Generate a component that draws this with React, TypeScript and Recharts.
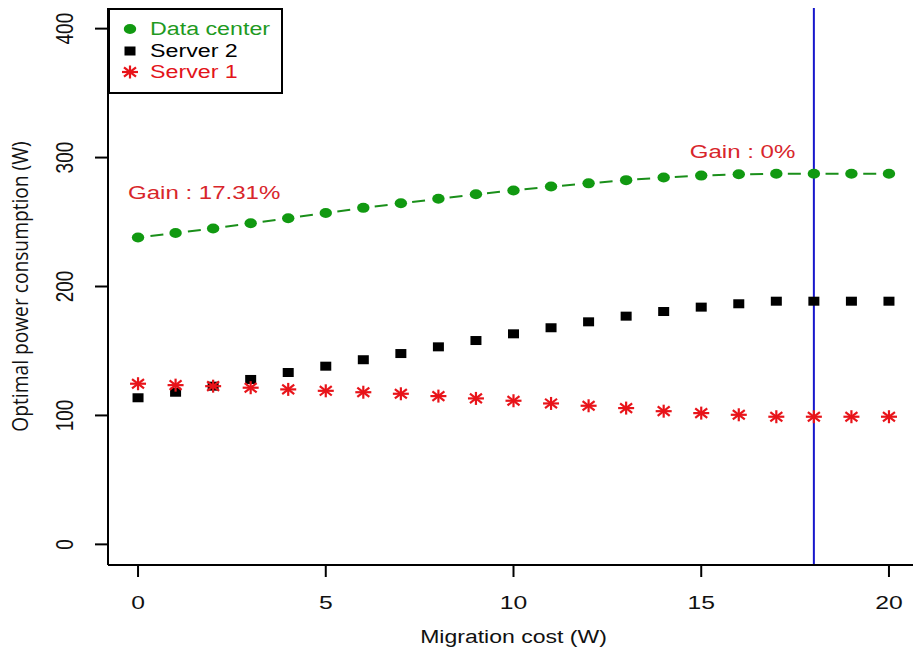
import {
  ComposedChart,
  Line,
  XAxis,
  YAxis,
  Legend,
  ReferenceLine,
  ReferenceDot,
} from 'recharts';

/**
 * Optimal power consumption vs migration cost
 * R-style scatter plot: data center (dashed), server 2, server 1
 */

const costs = [0, 1, 2, 3, 4, 5, 6, 7, 8, 9, 10, 11, 12, 13, 14, 15, 16, 17, 18, 19, 20];
const dataCenter = [238, 241.5, 245, 249, 253, 257, 261, 264.5, 268, 271.5, 274.5, 277.5, 280, 282.5, 284.5, 286, 287, 287.5, 287.5, 287.5, 287.5];
const server2 = [113.7, 118, 122.7, 127.9, 133.3, 138.2, 143.2, 148, 153.2, 158.1, 163.3, 168, 172.6, 177, 180.6, 184, 186.6, 188.6, 188.6, 188.6, 188.6];
const server1 = [124.6, 123.5, 122.7, 121.5, 120.2, 119.1, 118, 116.8, 115, 113.2, 111.4, 109.3, 107.5, 105.7, 103.3, 101.8, 100.5, 99, 99, 99, 99];

const xTicks = [0, 5, 10, 15, 20];
const yTicks = [0, 100, 200, 300, 400];
const breakEven = 18;

const gainNotes = [
  { cost: 1.76, value: 267.5, text: 'Gain : 17.31%' },
  { cost: 16.1, value: 299.5, text: 'Gain : 0%' },
];

const legendItems = [
  { name: 'Data center', color: '#1f9a1f', symbol: 'dot' },
  { name: 'Server 2', color: '#000000', symbol: 'square' },
  { name: 'Server 1', color: '#e3141a', symbol: 'star' },
];

const GREEN = '#119911';
const RED = '#e8141a';
const FONT = "'Liberation Sans', Arial, sans-serif";

const chartData = costs.map((c, i) => ({
  cost: c,
  dataCenter: dataCenter[i],
  server2: server2[i],
  server1: server1[i],
}));

function GreenDot({ cx, cy }: any) {
  if (cx == null || cy == null) return null;
  return <ellipse cx={cx} cy={cy} rx={6.2} ry={5} fill={GREEN} />;
}

function BlackSquare({ cx, cy }: any) {
  if (cx == null || cy == null) return null;
  return <rect x={cx - 5.5} y={cy - 4.5} width={11} height={9} fill="#000" />;
}

function RedStar({ cx, cy }: any) {
  if (cx == null || cy == null) return null;
  return (
    <g stroke={RED} strokeWidth={2.2}>
      <line x1={cx - 8} y1={cy} x2={cx + 8} y2={cy} />
      <line x1={cx} y1={cy - 6.5} x2={cx} y2={cy + 6.5} />
      <line x1={cx - 6} y1={cy - 4.7} x2={cx + 6} y2={cy + 4.7} />
      <line x1={cx - 6} y1={cy + 4.7} x2={cx + 6} y2={cy - 4.7} />
    </g>
  );
}

function XTick({ x, y, payload }: any) {
  return (
    <text
      transform={`translate(${x},${y + 32}) scale(1.3,1)`}
      textAnchor="middle"
      fontSize={19}
      fontFamily={FONT}
      fill="#111"
    >
      {payload.value}
    </text>
  );
}

function YTick({ y, payload }: any) {
  return (
    <text
      transform={`translate(73,${y}) rotate(-90) scale(1,1.3)`}
      textAnchor="middle"
      fontSize={19}
      fontFamily={FONT}
      fill="#111"
    >
      {payload.value}
    </text>
  );
}

function XTitle({ viewBox }: any) {
  const cx = viewBox.x + viewBox.width / 2;
  return (
    <text
      transform={`translate(${cx},643) scale(1.28,1)`}
      textAnchor="middle"
      fontSize={18}
      fontFamily={FONT}
      fill="#111"
    >
      Migration cost (W)
    </text>
  );
}

function YTitle({ viewBox }: any) {
  const cy = viewBox.y + viewBox.height / 2;
  return (
    <text
      transform={`translate(28,${cy}) rotate(-90) scale(0.96,1.05)`}
      textAnchor="middle"
      fontSize={20}
      fontFamily="'Open Sans', 'Noto Sans', sans-serif"
      fill="#111"
    >
      Optimal power consumption (W)
    </text>
  );
}

function gainLabel(text: string) {
  return ({ viewBox }: any) => (
    <text
      transform={`translate(${viewBox.x + viewBox.width / 2},${viewBox.y + viewBox.height / 2}) scale(1.3,1)`}
      textAnchor="middle"
      fontSize={18.5}
      fontFamily={FONT}
      fill="#d8262b"
    >
      {text}
    </text>
  );
}

function LegendSymbol({ symbol }: { symbol: string }) {
  return (
    <svg width={24} height={22} style={{ position: 'absolute', left: 8, top: 0 }}>
      {symbol === 'dot' && <GreenDot cx={12} cy={11} />}
      {symbol === 'square' && <BlackSquare cx={12} cy={11} />}
      {symbol === 'star' && <RedStar cx={12} cy={11} />}
    </svg>
  );
}

function PlotLegend() {
  return (
    <div
      style={{
        position: 'relative',
        width: 175,
        height: 86,
        boxSizing: 'border-box',
        border: '2px solid #000',
        background: '#fff',
        fontFamily: FONT,
      }}
    >
      {legendItems.map((item, i) => (
        <div
          key={item.name}
          style={{ position: 'absolute', left: 0, top: 8 + i * 21.5, height: 22, width: 171 }}
        >
          <LegendSymbol symbol={item.symbol} />
          <span
            style={{
              position: 'absolute',
              left: 40,
              top: 0,
              lineHeight: '22px',
              fontSize: 18,
              color: item.color,
              whiteSpace: 'nowrap',
              display: 'inline-block',
              transform: 'scaleX(1.29)',
              transformOrigin: 'left center',
            }}
          >
            {item.name}
          </span>
        </div>
      ))}
    </div>
  );
}

export default function App() {
  return (
    <div
      style={{
        position: 'absolute',
        left: 0,
        top: 0,
        width: 913,
        height: 656,
        overflow: 'hidden',
        background: '#fff',
      }}
    >
      <ComposedChart
        width={930}
        height={656}
        data={chartData}
        margin={{ top: 8, right: 11, bottom: 0, left: 0 }}
      >
        <XAxis
          dataKey="cost"
          type="number"
          domain={[-0.8, 20.8]}
          ticks={xTicks}
          allowDataOverflow
          height={91}
          axisLine={{ stroke: '#000', strokeWidth: 2 }}
          tickLine={{ stroke: '#000', strokeWidth: 2 }}
          tickSize={12}
          tickMargin={0}
          tick={<XTick />}
          label={<XTitle />}
        />
        <YAxis
          type="number"
          domain={[-16, 416]}
          ticks={yTicks}
          allowDataOverflow
          width={108}
          axisLine={{ stroke: '#000', strokeWidth: 2 }}
          tickLine={{ stroke: '#000', strokeWidth: 2 }}
          tickSize={13}
          tickMargin={0}
          tick={<YTick />}
          label={<YTitle />}
        />
        <ReferenceLine x={breakEven} stroke="#1616cc" strokeWidth={2} />
        <Line
          dataKey="dataCenter"
          name="Data center"
          type="linear"
          stroke="#1a8f1a"
          strokeWidth={2}
          strokeDasharray="0 12.5 13 12.2"
          dot={<GreenDot />}
          activeDot={false}
          isAnimationActive={false}
        />
        <Line
          dataKey="server2"
          name="Server 2"
          type="linear"
          stroke="none"
          dot={<BlackSquare />}
          activeDot={false}
          isAnimationActive={false}
        />
        <Line
          dataKey="server1"
          name="Server 1"
          type="linear"
          stroke="none"
          dot={<RedStar />}
          activeDot={false}
          isAnimationActive={false}
        />
        {gainNotes.map((n) => (
          <ReferenceDot
            key={n.text}
            x={n.cost}
            y={n.value}
            r={0}
            fill="none"
            stroke="none"
            label={gainLabel(n.text)}
          />
        ))}
        <Legend
          layout="horizontal"
          verticalAlign="middle"
          align="center"
          wrapperStyle={{ top: 8, left: 108, width: 175, height: 86 }}
          content={<PlotLegend />}
        />
      </ComposedChart>
    </div>
  );
}
